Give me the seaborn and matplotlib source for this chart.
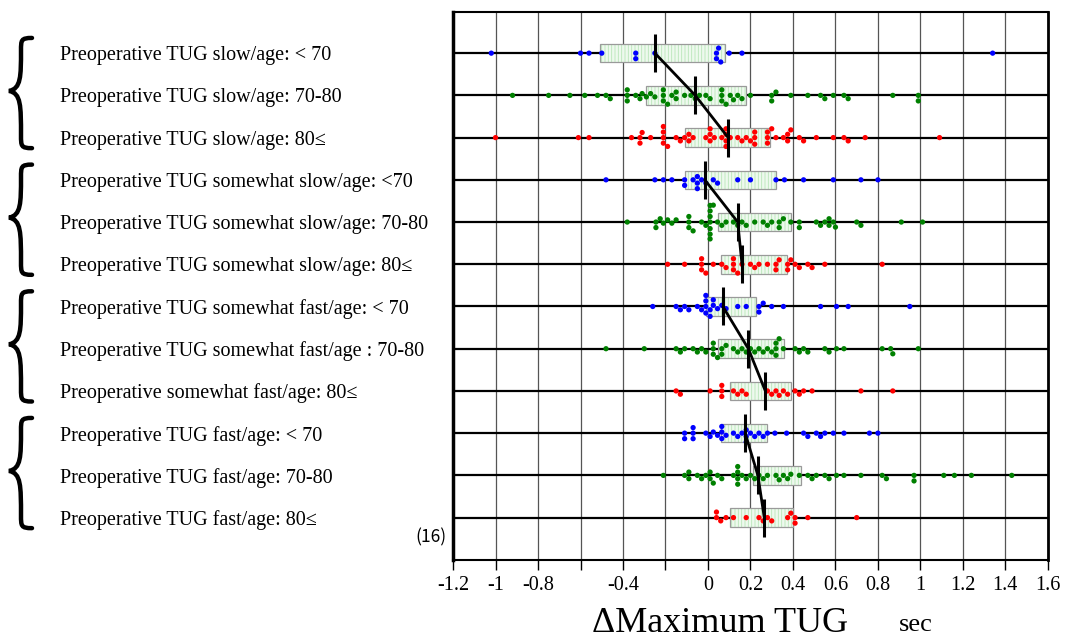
import numpy as np
import pandas as pd
import matplotlib
matplotlib.use("Agg")
import matplotlib.pyplot as plt
import matplotlib.transforms as mtransforms
from matplotlib.path import Path
from matplotlib.patches import PathPatch
import seaborn as sns

# ---- data ----
labels = [
    "Preoperative TUG slow/age: < 70",
    "Preoperative TUG slow/age: 70-80",
    "Preoperative TUG slow/age: 80≤",
    "Preoperative TUG somewhat slow/age: <70",
    "Preoperative TUG somewhat slow/age: 70-80",
    "Preoperative TUG somewhat slow/age: 80≤",
    "Preoperative TUG somewhat fast/age: < 70",
    "Preoperative TUG somewhat fast/age : 70-80",
    "Preoperative somewhat fast/age: 80≤",
    "Preoperative TUG fast/age: < 70",
    "Preoperative TUG fast/age: 70-80",
    "Preoperative TUG fast/age: 80≤",
]

slow_lt70 = [-1.02, -0.60, -0.56, -0.50, -0.34, -0.34, -0.25, 0.04, 0.04, 0.05, 0.06, 0.10, 0.16, 1.34]
slow_70_80 = [-0.92, -0.75, -0.65, -0.58, -0.52, -0.48, -0.46, -0.38, -0.38, -0.38, -0.34, -0.32, -0.31,
              -0.29, -0.27, -0.25, -0.21, -0.21, -0.21, -0.19, -0.17, -0.15, -0.15, -0.11, -0.08, -0.06,
              -0.04, -0.01, 0.01, 0.065, 0.065, 0.065, 0.085, 0.105, 0.12, 0.14, 0.16, 0.20, 0.30, 0.30,
              0.32, 0.39, 0.47, 0.53, 0.55, 0.59, 0.64, 0.66, 0.87, 0.99, 0.99]
slow_80 = [-1.0, -0.61, -0.56, -0.36, -0.32, -0.32, -0.31, -0.27, -0.21, -0.21, -0.21, -0.21, -0.19,
           -0.15, -0.13, -0.11, -0.09, -0.09, -0.07, -0.01, 0.01, 0.01, 0.01, 0.03, 0.065, 0.085, 0.085,
           0.085, 0.085, 0.105, 0.14, 0.16, 0.18, 0.20, 0.22, 0.22, 0.22, 0.28, 0.28, 0.28, 0.30, 0.32,
           0.355, 0.375, 0.375, 0.39, 0.43, 0.45, 0.51, 0.59, 0.64, 0.66, 0.74, 1.09]
sslow_lt70 = [-0.48, -0.25, -0.21, -0.17, -0.11, -0.11, -0.07, -0.05, -0.05, -0.05, -0.03, -0.01, 0.025,
              0.045, 0.14, 0.20, 0.32, 0.36, 0.45, 0.59, 0.72, 0.80]
sslow_70_80 = [-0.38, -0.245, -0.245, -0.225, -0.21, -0.19, -0.17, -0.15, -0.09, -0.09, -0.09, -0.07,
               -0.03, -0.01, 0.01, 0.01, 0.01, 0.01, 0.01, 0.01, 0.01, 0.025, 0.045, 0.065, 0.085, 0.12,
               0.14, 0.16, 0.18, 0.22, 0.26, 0.28, 0.30, 0.335, 0.335, 0.355, 0.39, 0.43, 0.43, 0.51,
               0.53, 0.55, 0.57, 0.57, 0.59, 0.60, 0.70, 0.72, 0.91, 1.01]
sslow_80 = [-0.19, -0.11, -0.03, -0.03, -0.03, -0.01, 0.025, 0.065, 0.085, 0.12, 0.12, 0.12, 0.14, 0.16,
            0.20, 0.22, 0.24, 0.28, 0.32, 0.32, 0.335, 0.375, 0.375, 0.39, 0.41, 0.43, 0.47, 0.49, 0.55, 0.82]
sfast_lt70 = [-0.26, -0.15, -0.13, -0.11, -0.09, -0.05, -0.03, -0.01, -0.01, -0.01, -0.01, 0.01, 0.01,
              0.025, 0.025, 0.045, 0.065, 0.085, 0.14, 0.18, 0.24, 0.24, 0.26, 0.30, 0.355, 0.53, 0.605,
              0.66, 0.95]
sfast_70_80 = [-0.48, -0.30, -0.15, -0.13, -0.11, -0.07, -0.05, -0.03, -0.01, 0.025, 0.025, 0.025, 0.045,
               0.065, 0.065, 0.085, 0.12, 0.14, 0.16, 0.18, 0.20, 0.22, 0.24, 0.26, 0.28, 0.30, 0.32,
               0.32, 0.32, 0.335, 0.355, 0.41, 0.43, 0.45, 0.47, 0.55, 0.57, 0.605, 0.64, 0.82, 0.86,
               0.87, 0.99]
sfast_80 = [-0.15, -0.13, 0.01, 0.065, 0.065, 0.065, 0.12, 0.14, 0.16, 0.18, 0.28, 0.30, 0.32, 0.335,
            0.355, 0.375, 0.41, 0.43, 0.45, 0.49, 0.72, 0.87]
fast_lt70 = [-0.11, -0.11, -0.07, -0.07, -0.07, -0.01, 0.01, 0.025, 0.045, 0.065, 0.065, 0.065, 0.085,
             0.12, 0.14, 0.16, 0.18, 0.18, 0.18, 0.20, 0.22, 0.24, 0.26, 0.28, 0.315, 0.37, 0.45, 0.47,
             0.51, 0.53, 0.55, 0.59, 0.64, 0.76, 0.80]
fast_70_80 = [-0.21, -0.11, -0.09, -0.09, -0.05, -0.03, -0.01, 0.01, 0.01, 0.025, 0.045, 0.065, 0.12,
              0.14, 0.14, 0.14, 0.14, 0.16, 0.18, 0.20, 0.22, 0.24, 0.26, 0.28, 0.32, 0.335, 0.355,
              0.375, 0.39, 0.43, 0.47, 0.49, 0.51, 0.55, 0.57, 0.605, 0.64, 0.72, 0.82, 0.84, 0.97,
              0.97, 1.11, 1.16, 1.24, 1.43]
fast_80 = [0.04, 0.04, 0.06, 0.085, 0.12, 0.18, 0.24, 0.26, 0.28, 0.30, 0.375, 0.39, 0.41, 0.41, 0.47, 0.70]

series = [slow_lt70, slow_70_80, slow_80, sslow_lt70, sslow_70_80, sslow_80,
          sfast_lt70, sfast_70_80, sfast_80, fast_lt70, fast_70_80, fast_80]

means = [-0.25, -0.06, 0.095, -0.015, 0.14, 0.16, 0.07, 0.19, 0.27, 0.175, 0.235, 0.265]
box_lo = [-0.51, -0.29, -0.11, -0.11, 0.045, 0.06, -0.01, 0.045, 0.105, 0.06, 0.21, 0.105]
box_hi = [0.08, 0.18, 0.29, 0.32, 0.39, 0.37, 0.225, 0.36, 0.39, 0.28, 0.44, 0.40]

xticks = [-1.2, -1.0, -0.8, -0.6, -0.4, -0.2, 0, 0.2, 0.4, 0.6, 0.8, 1.0, 1.2, 1.4, 1.6]
xticklabels = ["-1.2", "-1", "-0.8", "", "-0.4", "", "0", "0.2", "0.4", "0.6", "0.8", "1", "1.2", "1.4", "1.6"]

age_colors = ["#0000ff", "#008000", "#ff0000"]

# long table for seaborn
df = pd.DataFrame({
    "group": np.repeat(labels, [len(s) for s in series]),
    "value": np.concatenate(series),
})
palette = {lab: age_colors[i % 3] for i, lab in enumerate(labels)}

sns.set_style("white")
plt.rcParams["font.family"] = ["Liberation Serif", "DejaVu Serif"]
plt.rcParams["hatch.linewidth"] = 0.6
for key in ["text.color", "axes.labelcolor", "xtick.color", "ytick.color"]:
    plt.rcParams[key] = "black"

fig = plt.figure(figsize=(10.66, 6.42), dpi=100)
ax = fig.add_axes([0.425, 0.128, 0.558, 0.853])

rows = np.arange(len(labels))

# boxes (light green, vertical hatch)
ax.barh(rows, np.array(box_hi) - np.array(box_lo), left=box_lo, height=0.44,
        color="#eef9ee", edgecolor="#b8e6b8", hatch="|||||", lw=0, zorder=2)
ax.barh(rows, np.array(box_hi) - np.array(box_lo), left=box_lo, height=0.44,
        fill=False, edgecolor="#9a9a9a", lw=0.9, zorder=2.1)

# row lines
ax.hlines(rows, -1.2, 1.6, color="black", lw=1.6, zorder=1.5)

sns.swarmplot(data=df, x="value", y="group", order=labels, hue="group", palette=palette,
              size=3.8, linewidth=0, legend=False, orient="h", ax=ax, zorder=3)

# means: vertical markers + connecting line within each group of three
ax.vlines(means, rows - 0.45, rows + 0.45, color="black", lw=2.2, zorder=4)
for g in range(4):
    sl = slice(g * 3, g * 3 + 3)
    ax.plot(means[sl], rows[sl], color="black", lw=2, zorder=4)

ax.set_xlim(-1.2, 1.6)
ax.set_ylim(12.0, -0.97)
ax.set_xticks(xticks)
ax.set_xticklabels(xticklabels)
ax.grid(axis="x", color="#555555", lw=0.9)
ax.grid(axis="y", visible=False)
ax.set_axisbelow(True)
ax.tick_params(axis="x", direction="out", length=7, width=1, color="black",
               labelsize=14.5, pad=5, bottom=True)
ax.set_xlabel("")
ax.set_ylabel("")

# row labels on the far left
ax.tick_params(axis="y", length=0, pad=283, labelsize=14.5)
for t in ax.get_yticklabels():
    t.set_ha("left")

for s in ax.spines.values():
    s.set_color("black")
    s.set_linewidth(1.5)
ax.spines["left"].set_linewidth(2.5)
ax.spines["right"].set_linewidth(2)

# braces for the four TUG groups
trans = mtransforms.blended_transform_factory(fig.transFigure, ax.transData)
W = 1066.0
H = 642.0
for g in range(4):
    top = g * 3 - 0.36
    bot = g * 3 + 2.25
    mid = (top + bot) / 2 - 0.05
    xe, xs, xt = 32 / W, 21 / W, 9 / W
    verts = [
        (xe, top), (xs, top), (xs, top + 0.05), (xs, top + 0.3),
        (xs, mid - 0.35), (xs, mid - 0.05), (xt, mid),
        (xs, mid + 0.05), (xs, mid + 0.35), (xs, bot - 0.3),
        (xs, bot - 0.05), (xs, bot), (xe, bot),
    ]
    codes = [Path.MOVETO] + [Path.CURVE4] * 12
    fig.add_artist(PathPatch(Path(verts, codes), fill=False, lw=3.2, color="black",
                             transform=trans, capstyle="round"))

ax.text(-1.23, 11.47, "(16)", ha="right", va="center", fontsize=12.5,
        family=["Noto Sans CJK JP", "DejaVu Sans"])

fig.text(720 / W, 1 - 640 / H, "ΔMaximum TUG", ha="center", va="bottom", fontsize=26)
fig.text(916 / W, 1 - 631 / H, "sec", ha="center", va="baseline", fontsize=19)

fig.savefig("out.png", dpi=100)
